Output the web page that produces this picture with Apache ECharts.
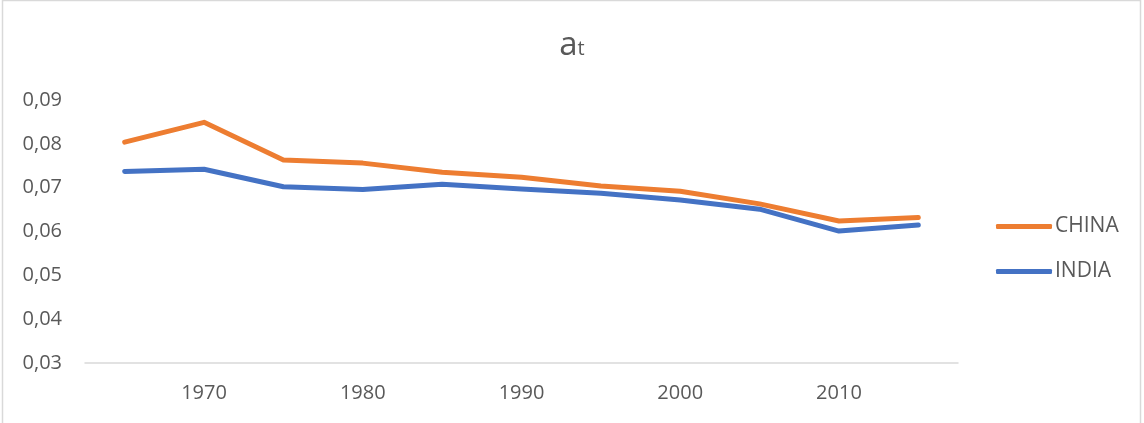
<!DOCTYPE html>
<html>
<head>
<meta charset="utf-8">
<script src="https://cdn.jsdelivr.net/npm/echarts@6/dist/echarts.min.js"></script>
<style>
  html, body { margin: 0; padding: 0; background: #ffffff; }
  #chart { width: 1144px; height: 423px; }
</style>
</head>
<body>
<div id="chart"></div>
<script>
// Years on the horizontal axis
const years = ['1965', '1970', '1975', '1980', '1985', '1990', '1995', '2000', '2005', '2010', '2015'];

// a_t values per country
const china = [0.0804, 0.0849, 0.0763, 0.0756, 0.0735, 0.0724, 0.0704, 0.0692, 0.0663, 0.0624, 0.0632];
const india = [0.0737, 0.0742, 0.0702, 0.0696, 0.0708, 0.0697, 0.0687, 0.0672, 0.0651, 0.0601, 0.0615];

// Vertical axis range and step
const yMin = 0.03;
const yMax = 0.09;
const yStep = 0.01;

const textColor = '#595959';
const fontFamily = '"Open Sans", "Noto Sans", sans-serif';

const chart = echarts.init(document.getElementById('chart'), null, { renderer: 'canvas' });

chart.setOption({
  backgroundColor: '#ffffff',
  animation: false,
  graphic: [{
    type: 'rect',
    shape: { x: 2.5, y: 0.5, width: 1138, height: 440 },
    style: { fill: 'none', stroke: '#d9d9d9', lineWidth: 1.5 },
    silent: true
  }],
  title: {
    text: '{a|a}{t|t}',
    left: 'center',
    top: 24,
    textStyle: {
      fontWeight: 'normal',
      rich: {
        a: { fontSize: 33, fontWeight: 'normal', color: textColor, fontFamily: fontFamily },
        t: { fontSize: 20, fontWeight: 'normal', color: textColor, fontFamily: fontFamily, verticalAlign: 'bottom', padding: [0, 0, 3, 0] }
      }
    }
  },
  legend: {
    orient: 'vertical',
    left: 991,
    top: 211,
    itemWidth: 56,
    itemHeight: 5,
    itemGap: 24,
    icon: 'roundRect',
    textStyle: { color: textColor, fontSize: 21, fontFamily: fontFamily, padding: [0, 0, 0, -2] },
    data: ['CHINA', 'INDIA']
  },
  grid: {
    left: 85,
    right: 186,
    top: 100,
    bottom: 60,
    containLabel: false
  },
  xAxis: {
    type: 'category',
    data: years,
    boundaryGap: true,
    axisLine: { show: true, lineStyle: { color: '#d9d9d9', width: 1.5 } },
    axisTick: { show: false },
    axisLabel: {
      color: textColor,
      fontSize: 20,
      fontFamily: fontFamily,
      margin: 20,
      interval: function (index) { return index % 2 === 1; }
    },
    splitLine: { show: false }
  },
  yAxis: {
    type: 'value',
    min: yMin,
    max: yMax,
    interval: yStep,
    axisLine: { show: false },
    axisTick: { show: false },
    splitLine: { show: false },
    axisLabel: {
      color: textColor,
      fontSize: 20,
      fontFamily: fontFamily,
      margin: 23,
      formatter: function (v) { return v.toFixed(2).replace('.', ','); }
    }
  },
  series: [
    {
      name: 'CHINA',
      type: 'line',
      data: china,
      symbol: 'none',
      smooth: false,
      color: '#ED7D31',
      lineStyle: { width: 5, color: '#ED7D31', cap: 'round', join: 'round' }
    },
    {
      name: 'INDIA',
      type: 'line',
      data: india,
      symbol: 'none',
      smooth: false,
      color: '#4472C4',
      lineStyle: { width: 5, color: '#4472C4', cap: 'round', join: 'round' }
    }
  ]
});
</script>
</body>
</html>
